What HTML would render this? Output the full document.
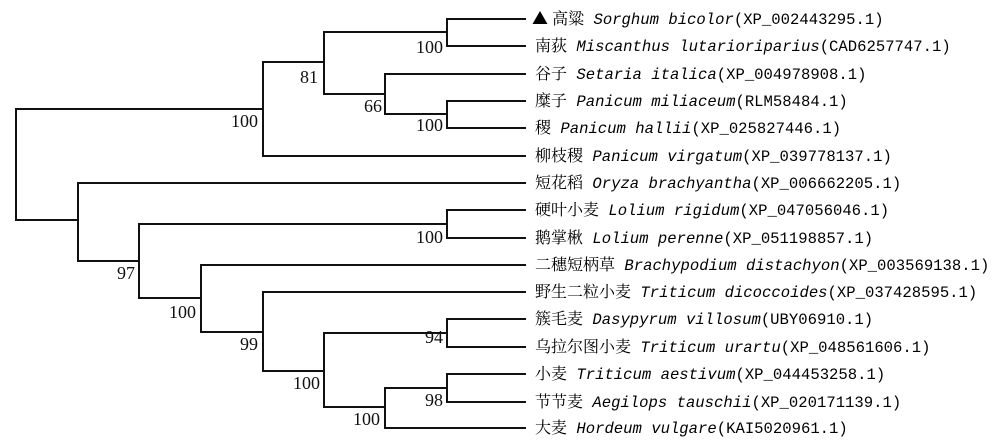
<!DOCTYPE html>
<html><head><meta charset="utf-8"><style>
html,body{margin:0;padding:0;background:#fff;}
svg{display:block;}
.n{font-family:"Liberation Serif","DejaVu Serif",serif;font-size:18px;fill:#111;}
.c{font-family:"Liberation Mono","Noto Serif CJK SC","Noto Sans CJK SC",monospace;font-size:15.6px;fill:#000;}
.z{font-family:"Noto Serif CJK SC","Noto Sans CJK SC",serif;font-size:16px;}
.i{font-style:italic;}
</style></head><body>
<svg width="1000" height="444" viewBox="0 0 1000 444" xmlns="http://www.w3.org/2000/svg">
<g stroke="#111" stroke-width="2" fill="none" stroke-linecap="square">
<path d="M263 109 H16 V220 H78"/>
<path d="M263 62 V156 H525"/>
<path d="M263 62 H324"/>
<path d="M324 32 V94 H385"/>
<path d="M324 32 H447"/>
<path d="M525 19 H447 V46 H525"/>
<path d="M385 74 V114 H447"/>
<path d="M385 74 H525"/>
<path d="M525 101 H447 V128 H525"/>
<path d="M525 183 H78 V261 H139"/>
<path d="M447 224 H139 V298 H201"/>
<path d="M525 210 H447 V238 H525"/>
<path d="M525 265 H201 V332 H263"/>
<path d="M525 292 H263 V371 H324"/>
<path d="M447 333 H324 V407 H385"/>
<path d="M525 319 H447 V347 H525"/>
<path d="M447 388 H385 V428 H525"/>
<path d="M525 374 H447 V402 H525"/>
</g>
<g class="n" text-anchor="end">
<text x="443" y="53">100</text>
<text x="318" y="83">81</text>
<text x="382" y="112">66</text>
<text x="443" y="131">100</text>
<text x="258" y="127">100</text>
<text x="443" y="243">100</text>
<text x="135" y="279">97</text>
<text x="196" y="318">100</text>
<text x="258" y="350">99</text>
<text x="443" y="343">94</text>
<text x="320" y="389">100</text>
<text x="443" y="406">98</text>
<text x="380" y="425">100</text>
</g>
<g class="c">
<text x="532" y="24" xml:space="preserve"><tspan class="z">▲ 高粱</tspan> <tspan class="i">Sorghum bicolor</tspan>(XP_002443295.1)</text>
<text x="535" y="51" xml:space="preserve"><tspan class="z">南荻</tspan> <tspan class="i">Miscanthus lutarioriparius</tspan>(CAD6257747.1)</text>
<text x="535" y="79" xml:space="preserve"><tspan class="z">谷子</tspan> <tspan class="i">Setaria italica</tspan>(XP_004978908.1)</text>
<text x="535" y="106" xml:space="preserve"><tspan class="z">糜子</tspan> <tspan class="i">Panicum miliaceum</tspan>(RLM58484.1)</text>
<text x="535" y="133" xml:space="preserve"><tspan class="z">稷</tspan> <tspan class="i">Panicum hallii</tspan>(XP_025827446.1)</text>
<text x="535" y="161" xml:space="preserve"><tspan class="z">柳枝稷</tspan> <tspan class="i">Panicum virgatum</tspan>(XP_039778137.1)</text>
<text x="535" y="188" xml:space="preserve"><tspan class="z">短花稻</tspan> <tspan class="i">Oryza brachyantha</tspan>(XP_006662205.1)</text>
<text x="535" y="215" xml:space="preserve"><tspan class="z">硬叶小麦</tspan> <tspan class="i">Lolium rigidum</tspan>(XP_047056046.1)</text>
<text x="535" y="243" xml:space="preserve"><tspan class="z">鹅掌楸</tspan> <tspan class="i">Lolium perenne</tspan>(XP_051198857.1)</text>
<text x="535" y="270" xml:space="preserve"><tspan class="z">二穗短柄草</tspan> <tspan class="i">Brachypodium distachyon</tspan>(XP_003569138.1)</text>
<text x="535" y="297" xml:space="preserve"><tspan class="z">野生二粒小麦</tspan> <tspan class="i">Triticum dicoccoides</tspan>(XP_037428595.1)</text>
<text x="535" y="324" xml:space="preserve"><tspan class="z">簇毛麦</tspan> <tspan class="i">Dasypyrum villosum</tspan>(UBY06910.1)</text>
<text x="535" y="352" xml:space="preserve"><tspan class="z">乌拉尔图小麦</tspan> <tspan class="i">Triticum urartu</tspan>(XP_048561606.1)</text>
<text x="535" y="379" xml:space="preserve"><tspan class="z">小麦</tspan> <tspan class="i">Triticum aestivum</tspan>(XP_044453258.1)</text>
<text x="535" y="407" xml:space="preserve"><tspan class="z">节节麦</tspan> <tspan class="i">Aegilops tauschii</tspan>(XP_020171139.1)</text>
<text x="535" y="433" xml:space="preserve"><tspan class="z">大麦</tspan> <tspan class="i">Hordeum vulgare</tspan>(KAI5020961.1)</text>
</g>
</svg>
</body></html>
